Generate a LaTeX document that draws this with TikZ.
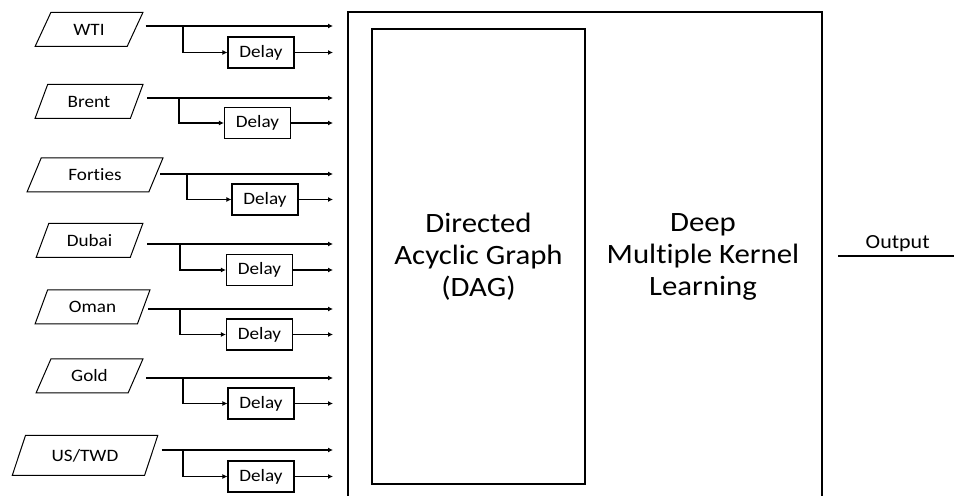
\documentclass[tikz,border=0pt]{standalone}
\usepackage{fontspec}
\setmainfont[FakeStretch=1.1,Ligatures=NoCommon]{Carlito}
\usepackage{tikz}
\usetikzlibrary{shapes.geometric,arrows.meta}

\begin{document}
\begin{tikzpicture}[x=0.5pt,y=-0.5pt,
    series/.style={draw,trapezium,trapezium left angle=60,trapezium right angle=120,
      trapezium stretches=true,minimum height=17pt,inner sep=0pt,line width=0.5pt,
      font=\fontsize{8.7}{10}\selectfont},
    delaybox/.style={draw,rectangle,minimum width=33pt,minimum height=15.5pt,
      inner sep=0pt,line width=0.6pt,font=\fontsize{8.7}{10}\selectfont},
    feed/.style={-{Latex[length=2.5pt,width=2.5pt]},line width=0.6pt},
    bigtext/.style={align=center,font=\fontsize{14}{16}\selectfont}]
      \useasboundingbox (0,0) rectangle (954,496);
      \coordinate (in) at (333,0);

      \node[series,minimum width=54pt] (wti) at (89,29.5) {WTI};
      \node[delaybox] (dwti) at (261,52.5) {Delay};
      \coordinate (wti-s) at (183,26);
      \draw[feed,shorten <=5pt] (wti.east |- wti-s) -- (in |- wti-s);
      \draw[feed] (wti-s) |- (dwti.west);
      \draw[feed] (dwti.east) -- (in |- dwti);

      \node[series,minimum width=54pt] (brent) at (89,101.5) {Brent};
      \node[delaybox] (dbrent) at (257.5,123) {Delay};
      \coordinate (brent-s) at (179,98);
      \draw[feed,shorten <=5pt] (brent.east |- brent-s) -- (in |- brent-s);
      \draw[feed] (brent-s) |- (dbrent.west);
      \draw[feed] (dbrent.east) -- (in |- dbrent);

      \node[series,minimum width=68pt] (forties) at (95,175) {Forties};
      \node[delaybox] (dforties) at (265,199.5) {Delay};
      \coordinate (forties-s) at (187,174);
      \draw[feed,shorten <=2pt] (forties.east |- forties-s) -- (in |- forties-s);
      \draw[feed] (forties-s) |- (dforties.west);
      \draw[feed] (dforties.east) -- (in |- dforties);

      \node[series,minimum width=53.5pt] (dubai) at (89.5,240.5) {Dubai};
      \node[delaybox] (ddubai) at (259.5,270) {Delay};
      \coordinate (dubai-s) at (180,244);
      \draw[feed,shorten <=5pt] (dubai.east |- dubai-s) -- (in |- dubai-s);
      \draw[feed] (dubai-s) |- (ddubai.west);
      \draw[feed] (ddubai.east) -- (in |- ddubai);

      \node[series,minimum width=57.5pt] (oman) at (92.5,307) {Oman};
      \node[delaybox] (doman) at (259.5,334.5) {Delay};
      \coordinate (oman-s) at (180,309);
      \draw[feed,shorten <=2pt] (oman.east |- oman-s) -- (in |- oman-s);
      \draw[feed] (oman-s) |- (doman.west);
      \draw[feed] (doman.east) -- (in |- doman);

      \node[series,minimum width=53.5pt] (gold) at (89.5,376) {Gold};
      \node[delaybox] (dgold) at (261,403.5) {Delay};
      \coordinate (gold-s) at (183,378);
      \draw[feed,shorten <=5pt] (gold.east |- gold-s) -- (in |- gold-s);
      \draw[feed] (gold-s) |- (dgold.west);
      \draw[feed] (dgold.east) -- (in |- dgold);

      \node[series,minimum width=73pt,minimum height=20pt] (ustwd) at (85,455.5) {US/TWD};
      \node[delaybox] (dustwd) at (261,476.5) {Delay};
      \coordinate (ustwd-s) at (183,450);
      \draw[feed,shorten <=5pt] (ustwd.east |- ustwd-s) -- (in |- ustwd-s);
      \draw[feed] (ustwd-s) |- (dustwd.west);
      \draw[feed] (dustwd.east) -- (in |- dustwd);

      \node[draw,line width=1pt,minimum width=237pt,minimum height=249pt,inner sep=0pt] (sys) at (585,261) {};
      \node[draw,line width=1pt,minimum width=106.5pt,minimum height=227.5pt,bigtext] (dag) at (478.5,256.5) {Directed\\Acyclic Graph\\(DAG)};
      \node[bigtext] (dmkl) at (703,257) {Deep\\Multiple Kernel\\Learning};

      \coordinate (out) at (954,256);
      \draw[line width=0.6pt,shorten <=7.5pt] (sys.east |- out) -- node[pos=0.57,above,inner sep=2pt,font=\fontsize{10}{12}\selectfont] (outlbl) {Output} (out);
    \end{tikzpicture}
\end{document}
